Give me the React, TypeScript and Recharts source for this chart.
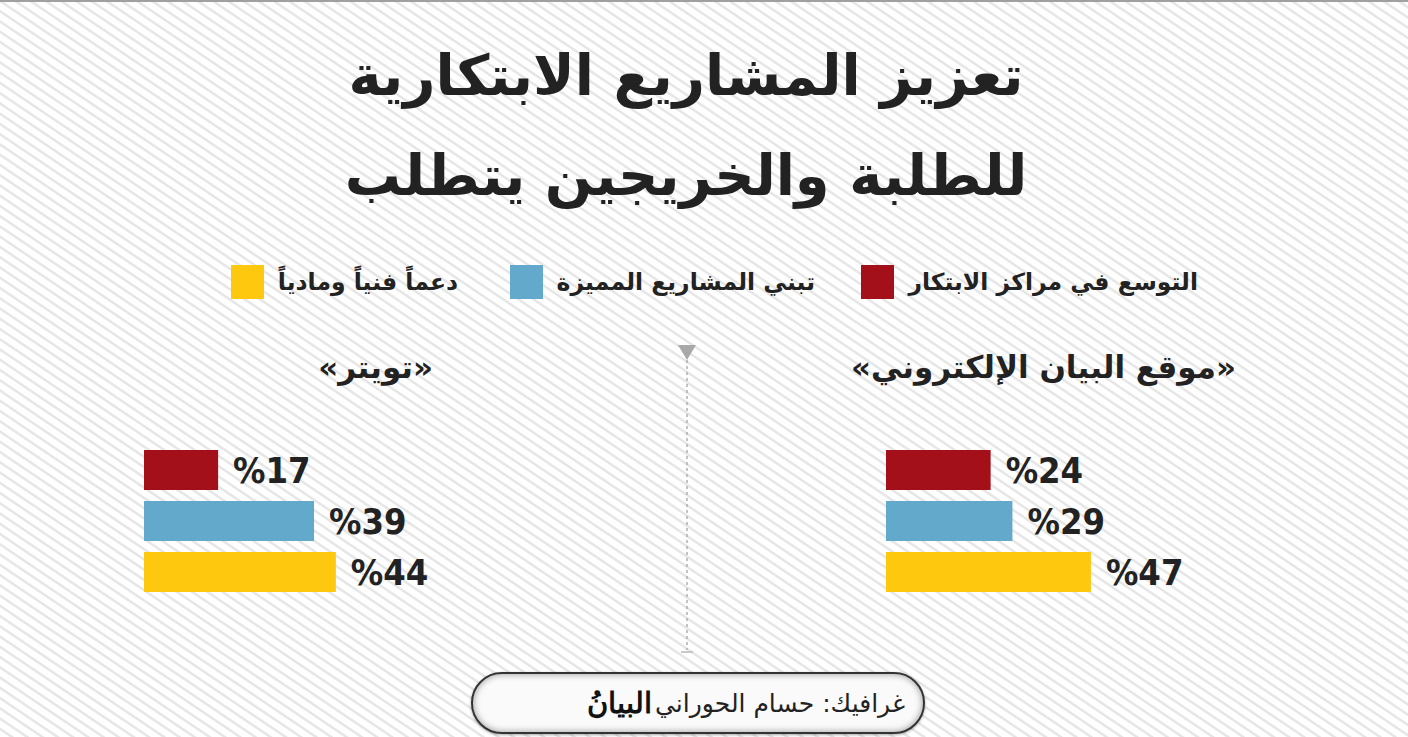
import { BarChart, Bar, XAxis, YAxis, Cell, LabelList } from "recharts";

const categories = [
  "التوسع في مراكز الابتكار",
  "تبني المشاريع المميزة",
  "دعماً فنياً ومادياً",
];
const colors = ["#A3101A", "#62A9CC", "#FEC80F"];
const websiteValues = [24, 29, 47];
const twitterValues = [17, 39, 44];
const titleLines = ["تعزيز المشاريع الابتكارية", "للطلبة والخريجين يتطلب"];
const panelTitles = ["«موقع البيان الإلكتروني»", "«تويتر»"];
const credit = "غرافيك: حسام الحوراني";
const logoText = "البيانُ";

const ARABIC = "'DejaVu Sans', 'Noto Sans', sans-serif";
const NUMBERS = "'DejaVu Sans Condensed', 'DejaVu Sans', sans-serif";
const INK = "#222";

const Panel = ({ values, left, top }: { values: number[]; left: number; top: number }) => {
  const data = categories.map((name, i) => ({ name, value: values[i] }));
  return (
    <div style={{ position: "absolute", left, top }}>
      <BarChart
        width={400}
        height={153}
        layout="vertical"
        data={data}
        margin={{ top: 0, right: 182, bottom: 0, left: 0 }}
      >
        <XAxis type="number" domain={[0, 50]} hide />
        <YAxis type="category" dataKey="name" hide />
        <Bar dataKey="value" barSize={40} isAnimationActive={false}>
          {data.map((d, i) => (
            <Cell key={d.name} fill={colors[i]} />
          ))}
          <LabelList
            dataKey="value"
            position="right"
            offset={15}
            formatter={(v: any) => `%${v}`}
            style={{
              fontFamily: NUMBERS,
              fontWeight: 700,
              fontSize: 36,
              fill: INK,
            }}
          />
        </Bar>
      </BarChart>
    </div>
  );
};

const legendRight = [1198, 815, 458];

export default function App() {
  return (
    <div
      style={{
        position: "absolute",
        left: 0,
        top: 0,
        width: 1408,
        height: 737,
        overflow: "hidden",
        background:
          "repeating-linear-gradient(34deg, #ffffff 0px, #ffffff 5px, #e6e6e6 6px, #e6e6e6 7.5px, #ffffff 8.5px)",
        borderTop: "2px solid #a0a0a0",
        boxSizing: "border-box",
      }}
    >
      {/* title */}
      {titleLines.map((line, i) => (
        <div
          key={line}
          dir="rtl"
          style={{
            position: "absolute",
            left: 0,
            width: 1372,
            top: 34 + i * 100,
            textAlign: "center",
            fontFamily: ARABIC,
            fontWeight: 700,
            fontSize: 56,
            lineHeight: "80px",
            color: INK,
          }}
        >
          {line}
        </div>
      ))}

      {/* legend */}
      {categories.map((c, i) => (
        <div
          key={c}
          dir="rtl"
          style={{
            position: "absolute",
            right: 1408 - legendRight[i],
            top: 262,
            height: 36,
            display: "flex",
            alignItems: "center",
            gap: 14,
          }}
        >
          <span
            style={{
              fontFamily: ARABIC,
              fontWeight: 700,
              fontSize: 23.5,
              color: INK,
              whiteSpace: "nowrap",
            }}
          >
            {c}
          </span>
          <span style={{ width: 33, height: 34, background: colors[i], display: "inline-block" }} />
        </div>
      ))}

      {/* panel headers */}
      {panelTitles.map((t, i) => (
        <div
          key={t}
          dir="rtl"
          style={{
            position: "absolute",
            right: i === 0 ? 1408 - 1236 : 1408 - 433,
            top: 342,
            fontFamily: ARABIC,
            fontWeight: 700,
            fontSize: 31,
            lineHeight: "46px",
            color: INK,
            whiteSpace: "nowrap",
          }}
        >
          {t}
        </div>
      ))}

      {/* divider */}
      <svg style={{ position: "absolute", left: 670, top: 338 }} width={34} height={320}>
        <polygon points="8,5 26,5 17,20" fill="#a8a8a8" />
        <line x1={17} y1={20} x2={17} y2={310} stroke="#b0b0b0" strokeWidth={1.5} strokeDasharray="3 3" />
        <line x1={11} y1={312} x2={23} y2={312} stroke="#b8b8b8" strokeWidth={1.5} />
      </svg>

      <Panel values={websiteValues} left={886} top={442} />
      <Panel values={twitterValues} left={144} top={442} />

      {/* footer */}
      <div
        style={{
          position: "absolute",
          left: 471,
          top: 670,
          width: 454,
          height: 62,
          boxSizing: "border-box",
          border: "2.5px solid #333",
          borderRadius: 31,
          background: "#fafafa",
          boxShadow: "inset 0 0 7px rgba(0,0,0,0.4), 0 1px 3px rgba(0,0,0,0.35)",
        }}
      >
        <div
          dir="rtl"
          style={{
            position: "absolute",
            right: 18,
            top: 8,
            fontFamily: ARABIC,
            fontSize: 25,
            lineHeight: "44px",
            color: INK,
            whiteSpace: "nowrap",
          }}
        >
          {credit}
        </div>
        <div
          dir="rtl"
          style={{
            position: "absolute",
            left: 114,
            top: 3,
            fontFamily: "'DejaVu Serif', serif",
            fontWeight: 700,
            fontSize: 29,
            lineHeight: "52px",
            color: "#111",
            whiteSpace: "nowrap",
          }}
        >
          {logoText}
        </div>
      </div>
    </div>
  );
}
